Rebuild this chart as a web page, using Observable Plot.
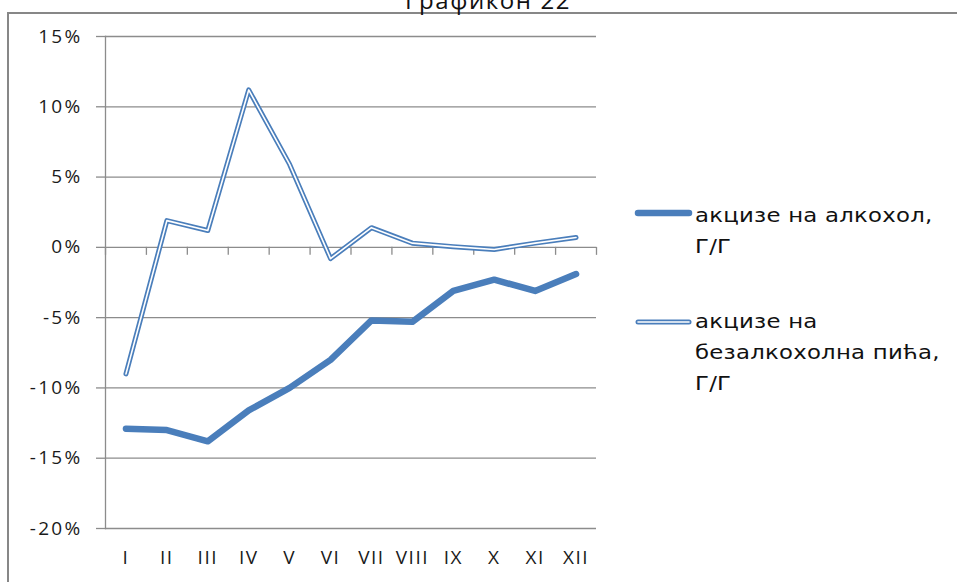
<!DOCTYPE html>
<html><head><meta charset="utf-8">
<script src="https://cdn.jsdelivr.net/npm/d3@7"></script>
<script src="https://cdn.jsdelivr.net/npm/@observablehq/plot@0.6"></script>
<style>
html,body{margin:0;padding:0;background:#fff;overflow:hidden}
#wrap{position:relative;width:957px;height:582px;overflow:hidden;background:#fff}
#frame{position:absolute;left:7px;top:12px;width:980px;height:600px;border-left:2px solid #878787;border-top:2px solid #878787;box-sizing:border-box}
#title{position:absolute;left:0;width:976px;text-align:center;top:-12px;font-family:"Open Sans";font-size:24px;line-height:24px;letter-spacing:1.6px;color:#111;white-space:nowrap}
#chart{position:absolute;left:0;top:0}
#chart svg text{letter-spacing:1.5px}
#chart svg g[aria-label="y-axis tick label"] text{letter-spacing:2.3px}
.leg{position:absolute;left:634px;font-family:"DejaVu Sans";font-size:19px;line-height:31px;color:#111}
.leg svg{position:absolute;left:0}
.leg .txt{position:absolute;left:61px;top:0;white-space:nowrap;transform:scaleX(1.2);transform-origin:0 0;letter-spacing:0.2px}
</style>
</head><body>
<div id="wrap">
  <div id="frame"></div>
  <div id="title">Графикон 22</div>
  <div id="chart"></div>
</div>
<script>
const months = ["I","II","III","IV","V","VI","VII","VIII","IX","X","XI","XII"];
const alcohol = [-12.9,-13.0,-13.8,-11.6,-10.0,-8.0,-5.2,-5.3,-3.1,-2.3,-3.1,-1.9];
const nonAlcoholic = [-9.0,1.9,1.2,11.2,5.9,-0.8,1.4,0.3,0.05,-0.15,0.3,0.7];
const yTicks = [-20,-15,-10,-5,0,5,10,15];
const seriesLines = [["акцизе на алкохол,","Г/Г"],["акцизе на","безалкохолна пића,","Г/Г"]];

const blue = "#4a7ebb";
const grid = "#8c8c8c";
const rowsA = months.map((m,i)=>({i, m, v: alcohol[i]}));
const rowsN = months.map((m,i)=>({i, m, v: nonAlcoholic[i]}));
const bounds = d3.range(months.length + 1).map(k => k - 0.5);

const chart = Plot.plot({
  width: 957, height: 582,
  marginLeft: 105, marginRight: 361, marginTop: 36, marginBottom: 54,
  x: {domain: [-0.5, months.length - 0.5]},
  y: {domain: [-20, 15]},
  style: {fontFamily: "Open Sans", fontSize: "19px", color: "#1a1a1a", background: "transparent", overflow: "visible"},
  marks: [
    Plot.gridY(yTicks, {stroke: grid, strokeOpacity: 1, strokeWidth: 1.3}),
    Plot.axisY(yTicks, {tickSize: 9, tickPadding: 14, tickFormat: d => d + "%", stroke: grid, strokeWidth: 1.3, label: null}),
    Plot.frame({anchor: "left", stroke: grid, strokeWidth: 1.3}),
    Plot.ruleX(bounds, {x: d => d, y1: 0, y2: 0, insetBottom: -8, stroke: grid, strokeWidth: 1.3}),
    Plot.axisX(d3.range(months.length), {tickSize: 0, tickPadding: 22, tickFormat: i => months[i], label: null}),
    Plot.line(rowsA, {x: "i", y: "v", stroke: blue, strokeWidth: 6.5}),
    Plot.line(rowsN, {x: "i", y: "v", stroke: blue, strokeWidth: 5}),
    Plot.line(rowsN, {x: "i", y: "v", stroke: "white", strokeWidth: 1.6})
  ]
});
document.getElementById("chart").appendChild(chart);

// legend
const wrap = document.getElementById("wrap");
const legTops = [200, 306];
const markerY = [13, 16];
seriesLines.forEach((lines, k) => {
  const d = document.createElement("div");
  d.className = "leg";
  d.style.top = legTops[k] + "px";
  const sw = d3.create("svg").attr("width", 60).attr("height", 30).style("top", (markerY[k] - 15) + "px");
  if (k === 0) {
    sw.append("line").attr("x1", 4).attr("x2", 55).attr("y1", 15).attr("y2", 15)
      .attr("stroke", blue).attr("stroke-width", 6.5).attr("stroke-linecap", "round");
  } else {
    sw.append("line").attr("x1", 4).attr("x2", 55).attr("y1", 15).attr("y2", 15)
      .attr("stroke", blue).attr("stroke-width", 5).attr("stroke-linecap", "round");
    sw.append("line").attr("x1", 4).attr("x2", 55).attr("y1", 15).attr("y2", 15)
      .attr("stroke", "white").attr("stroke-width", 1.6).attr("stroke-linecap", "round");
  }
  d.appendChild(sw.node());
  const t = document.createElement("div");
  t.className = "txt";
  t.innerHTML = lines.join("<br>");
  d.appendChild(t);
  wrap.appendChild(d);
});
</script>
</body></html>
